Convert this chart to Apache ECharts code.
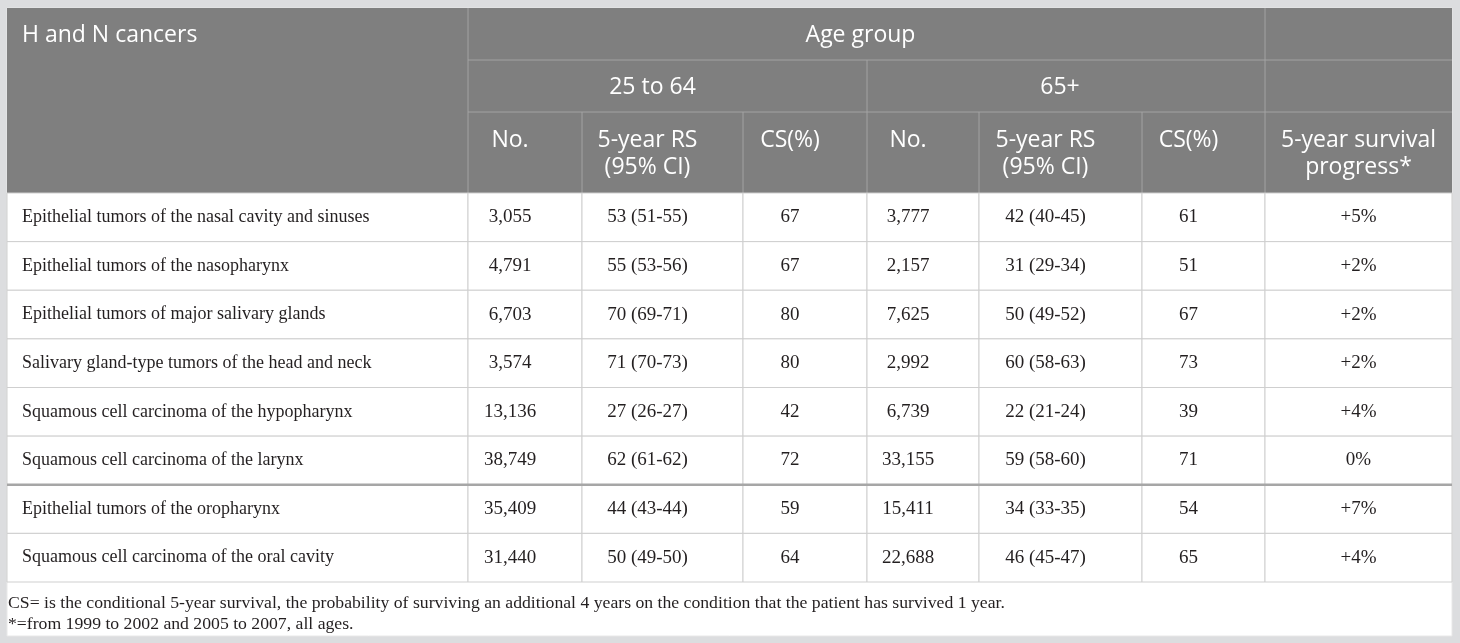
<!DOCTYPE html>
<html>
<head>
<meta charset="utf-8">
<script src="https://cdn.jsdelivr.net/npm/echarts@6/dist/echarts.min.js"></script>
<style>
  html, body { margin: 0; padding: 0; background: #dcdddf; }
  #main { width: 1460px; height: 643px; }
</style>
</head>
<body>
<div id="main"></div>
<script>
// table data
const cancers = [
  'Epithelial tumors of the nasal cavity and sinuses',
  'Epithelial tumors of the nasopharynx',
  'Epithelial tumors of major salivary glands',
  'Salivary gland-type tumors of the head and neck',
  'Squamous cell carcinoma of the hypopharynx',
  'Squamous cell carcinoma of the larynx',
  'Epithelial tumors of the oropharynx',
  'Squamous cell carcinoma of the oral cavity'
];
const no25 = [3055, 4791, 6703, 3574, 13136, 38749, 35409, 31440];
const rs25 = [53, 55, 70, 71, 27, 62, 44, 50];
const rs25lo = [51, 53, 69, 70, 26, 61, 43, 49];
const rs25hi = [55, 56, 71, 73, 27, 62, 44, 50];
const cs25 = [67, 67, 80, 80, 42, 72, 59, 64];
const no65 = [3777, 2157, 7625, 2992, 6739, 33155, 15411, 22688];
const rs65 = [42, 31, 50, 60, 22, 59, 34, 46];
const rs65lo = [40, 29, 49, 58, 21, 58, 33, 45];
const rs65hi = [45, 34, 52, 63, 24, 60, 35, 47];
const cs65 = [61, 51, 67, 73, 39, 71, 54, 65];
const progress = [5, 2, 2, 2, 4, 0, 7, 4];

const groupTitle = 'Age group';
const ageGroups = ['25 to 64', '65+'];
const colHeads = ['No.', '5-year RS\n(95% CI)', 'CS(%)', 'No.', '5-year RS\n(95% CI)', 'CS(%)', '5-year survival\nprogress*'];
const firstHead = 'H and N cancers';
const notes = [
  'CS= is the conditional 5-year survival, the probability of surviving an additional 4 years on the condition that the patient has survived 1 year.',
  '*=from 1999 to 2002 and 2005 to 2007, all ages.'
];

// layout
const colEdges = [7, 468, 582, 743, 867, 979, 1142, 1265, 1452];
const headTop = 8, headRow1 = 60, headRow2 = 112, headBottom = 193, bodyBottom = 582;
const headBg = '#7f7f7f', headLine = '#a3a3a3', bodyLine = '#cfcfcf';
const headFont = '"Open Sans", "Noto Sans", sans-serif';
const bodyFont = '"Liberation Serif", "DejaVu Serif", serif';

const fmt = n => n.toLocaleString('en-US');
const rows = cancers.map((name, i) => [
  name, fmt(no25[i]), rs25[i] + ' (' + rs25lo[i] + '-' + rs25hi[i] + ')', String(cs25[i]),
  fmt(no65[i]), rs65[i] + ' (' + rs65lo[i] + '-' + rs65hi[i] + ')', String(cs65[i]),
  (progress[i] > 0 ? '+' : '') + progress[i] + '%'
]);

const cellData = [];
rows.forEach((r, ri) => r.forEach((t, ci) => cellData.push([0, ri, ci, t])));

const chart = echarts.init(document.getElementById('main'));

function hline(x1, x2, y, color, w) {
  return { type: 'line', shape: { x1: x1, y1: y, x2: x2, y2: y }, style: { stroke: color, lineWidth: w || 1 }, silent: true };
}
function vline(x, y1, y2, color, w) {
  return { type: 'line', shape: { x1: x, y1: y1, x2: x, y2: y2 }, style: { stroke: color, lineWidth: w || 1 }, silent: true };
}
function htext(txt, x, y, align, vAlign) {
  return {
    type: 'text', x: x, y: y, silent: true,
    style: { text: txt, fill: '#fff', font: '23px ' + headFont, align: align || 'center', verticalAlign: vAlign || 'middle', lineHeight: 27 }
  };
}

const graphics = [
  // white sheet
  { type: 'rect', shape: { x: 7, y: headTop, width: colEdges[8] - 7, height: 636 - headTop }, style: { fill: '#fff', stroke: '#e8e8e8' }, z: -10, silent: true },
  // header background
  { type: 'rect', shape: { x: 7, y: headTop, width: colEdges[8] - 7, height: headBottom - headTop }, style: { fill: headBg }, silent: true },
  hline(colEdges[1], colEdges[8], headRow1, headLine),
  hline(colEdges[1], colEdges[8], headRow2, headLine),
  vline(colEdges[1], headTop, headBottom, headLine),
  vline(colEdges[7], headTop, headBottom, headLine),
  vline(colEdges[4], headRow1, headBottom, headLine),
  htext(firstHead, 22, 35, 'left'),
  htext(groupTitle, (colEdges[1] + colEdges[7]) / 2 - 6, 35),
  htext(ageGroups[0], (colEdges[1] + colEdges[4]) / 2 - 15, 87),
  htext(ageGroups[1], (colEdges[4] + colEdges[7]) / 2 - 6, 87)
];
[2, 3, 5, 6].forEach(c => graphics.push(vline(colEdges[c], headRow2, headBottom, headLine)));
colHeads.forEach((t, c) => {
  const cx = (colEdges[c + 1] + colEdges[c + 2]) / 2 - (c < 6 ? 15 : 0);
  graphics.push(htext(t, cx, 127, 'center', 'top'));
});
notes.forEach((t, i) => graphics.push({
  type: 'text', x: 8, y: 603 + i * 21, silent: true,
  style: { text: t, fill: '#231f20', font: '17.7px ' + bodyFont, align: 'left', verticalAlign: 'middle' }
}));

chart.setOption({
  animation: false,
  backgroundColor: '#dcdddf',
  grid: { left: 0, right: 0, top: headBottom, bottom: 643 - bodyBottom },
  xAxis: { type: 'value', min: 0, max: 1460, show: false },
  yAxis: { type: 'category', data: cancers, inverse: true, show: false },
  graphic: graphics,
  series: [{
    type: 'custom',
    data: cellData,
    encode: { x: 0, y: 1 },
    renderItem: function (params, api) {
      const r = api.value(1);
      const c = api.value(2);
      const txt = cellData[params.dataIndex][3];
      const mid = api.coord([0, r])[1];
      const h = api.size([0, 1])[1];
      const x0 = colEdges[c], x1 = colEdges[c + 1];
      const top = mid - h / 2;
      let tx, align;
      if (c === 0) { tx = x0 + 15; align = 'left'; }
      else if (c === 7) { tx = (x0 + x1) / 2; align = 'center'; }
      else { tx = (x0 + x1) / 2 - 15; align = 'center'; }
      const size = c === 0 ? 18 : 19;
      const kids = [
        { type: 'rect', shape: { x: x0, y: top, width: x1 - x0, height: h }, style: { fill: '#fff', stroke: bodyLine, lineWidth: 1 } },
        { type: 'text', x: tx, y: mid, style: { text: txt, fill: '#231f20', font: size + 'px ' + bodyFont, align: align, verticalAlign: 'middle' } }
      ];
      if (r === 6) {
        kids.push({ type: 'line', shape: { x1: x0, y1: top, x2: x1, y2: top }, style: { stroke: '#a6a6a6', lineWidth: 2.5 }, z2: 5 });
      }
      return { type: 'group', children: kids };
    }
  }]
});
</script>
</body>
</html>
